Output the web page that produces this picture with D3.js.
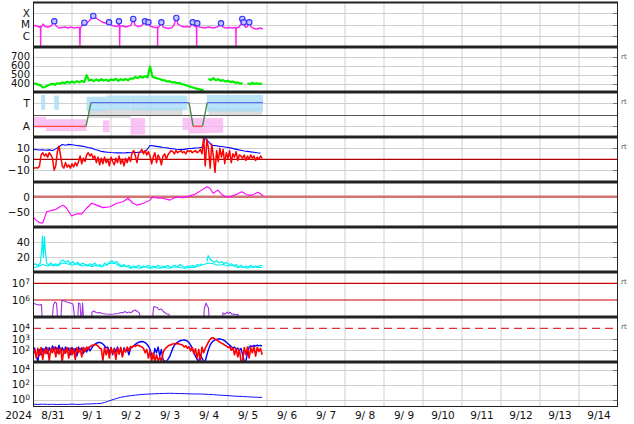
<!DOCTYPE html>
<html><head><meta charset="utf-8">
<script src="https://cdn.jsdelivr.net/npm/d3@7"></script>
<style>body{margin:0;background:#fff}svg{display:block}text{font-family:"DejaVu Sans",sans-serif}</style>
</head><body><svg id="c" width="634" height="424"></svg>
<script>
// ---------------- DATA (time = hours since 2024-08-31 00:00 UT) ----------------
const dayLabels=['8/31','9/ 1','9/ 2','9/ 3','9/ 4','9/ 5','9/ 6','9/ 7','9/ 8','9/ 9','9/10','9/11','9/12','9/13','9/14'];
const yearLabel='2024';

// X-ray flux (W/m2)
const xrayHours=[0,1.8,3.7,4.6,4.7,4.8,5.2,6.2,7.4,9.2,11.1,13.1,14.2,16,17.8,19.7,21.5,23.4,25.2,27.1,
28.6,28.9,29.1,29.5,31.6,32.6,33.8,35.1,37.1,38.8,40.6,42.5,44.3,46.8,48,49.8,51.7,52.6,52.9,53.2,
53.3,53.5,53.8,55.4,57.2,59.1,60.3,61.7,62.8,64.6,66.5,67.7,68.9,69.8,71,72,73.8,75.7,76.6,76.7,
76.8,77.5,79,80,81.8,83.7,85.5,86.8,88.2,89.2,91.1,92.9,94.8,96.6,98.3,99.1,100.3,100.6,100.7,100.8,
101.1,102.2,104,105.8,107.7,109.5,111.4,113.2,114.5,115.7,116.9,118.8,120.6,122.5,124.3,124.8,124.9,125,125.5,126.8,
128,128.8,129.7,130.5,131.7,133.1,134.2,136,137.8,139.7,141.5];
const xrayFlux=[7.4e-6,8.1e-6,6.0e-6,6.6e-6,1.2e-7,6.6e-6,6.0e-6,1.1e-5,6.6e-6,6.0e-6,7.4e-6,1.9e-5,7.4e-6,4.9e-6,5.4e-6,6.0e-6,4.9e-6,6.0e-6,4.9e-6,5.4e-6,
5.4e-6,1.2e-7,5.4e-6,6.0e-6,1.45e-5,1.1e-5,1.67e-5,2.5e-5,5.7e-5,3.8e-5,2.5e-5,1.67e-5,1.36e-5,1.57e-5,9.0e-6,7.4e-6,6.6e-6,9.0e-6,1.9e-5,9.0e-6,
1.2e-7,7.4e-6,7.4e-6,7.4e-6,6.0e-6,7.4e-6,9.0e-6,3.1e-5,9.0e-6,6.6e-6,7.4e-6,1.1e-5,1.9e-5,9.0e-6,1.57e-5,7.4e-6,6.0e-6,5.4e-6,5.4e-6,1.2e-7,
5.4e-6,6.0e-6,1.57e-5,6.0e-6,4.9e-6,4.4e-6,5.4e-6,9.0e-6,3.8e-5,1.1e-5,7.4e-6,6.0e-6,6.6e-6,6.0e-6,1.57e-5,7.4e-6,6.0e-6,6.0e-6,1.2e-7,6.0e-6,
1.28e-5,6.0e-6,5.4e-6,4.9e-6,6.0e-6,5.4e-6,4.9e-6,6.0e-6,7.4e-6,1.28e-5,6.0e-6,4.9e-6,5.4e-6,4.9e-6,5.4e-6,5.4e-6,1.2e-7,5.4e-6,4.9e-6,6.0e-6,
1.1e-5,3.1e-5,1.57e-5,6.0e-6,6.0e-6,1.57e-5,6.0e-6,4.4e-6,4.0e-6,4.9e-6,4.0e-6];
const flareHours=[13.1,31.6,37.1,46.8,52.9,61.7,68.9,71,79,88.2,98.3,101.1,115.7,128.8,129.7,133.1];
const flareFlux=[1.9e-5,1.45e-5,5.7e-5,1.57e-5,1.9e-5,3.1e-5,1.9e-5,1.57e-5,1.57e-5,3.8e-5,1.57e-5,1.28e-5,1.28e-5,3.1e-5,1.57e-5,1.57e-5];

// Solar wind speed (km/s), every 1.5 h
const speedStep=1.5;
const speedValues=[395,402,390,385,358,365,380,392,398,388,405,400,415,405,422,410,425,412,428,415,
430,418,495,435,445,428,448,432,450,435,445,430,448,438,455,432,450,440,452,438,
460,455,475,462,482,468,485,470,590,478,468,458,452,440,438,425,428,415,418,405,
410,395,392,380,372,362,355,345,340,332,328,null,455,440,462,438,450,432,440,425,
432,418,425,410,415,400,408,null,405,395,410,398,405,396,402];

// IMF sector (T = +1, A = -1)
const sectorHours=[0,32.6,35.7,96,98.6,104.3,107.2,141.5];
const sectorValues=[-1,-1,1,1,-1,-1,1,1];
const towardClouds=[[5,7.5,0.4,1.65],[13,16,0.4,1.6],[33,45,0.3,1.5],[45,60,0.4,1.6],[60,95,0.35,1.6],[107,141.5,0.25,1.65]];
const grayClouds=[[34,60,-0.3,0.45],[60,92,-0.1,0.55],[108,141,-0.1,0.55]];
const awayClouds=[[0,8,-1.15,-0.2],[8,33,-1.4,-0.4],[43,47,-1.5,-0.5],[60,69,-1.7,-0.3],[92,96,-1.3,-0.3],[96,107,-1.6,-0.3],[107,117,-1.55,-0.3]];

// IMF Bt (every 2 h) and Bz (every 1 h), nT
const btStep=2;
const btValues=[9.2,8.8,8.5,8.7,8.2,8.6,8.0,9.5,11.5,13.5,12.8,13.6,13.2,12.8,12.4,12.0,11.5,10.8,10.2,9.0,
8.2,7.2,6.8,6.5,6.2,6.0,5.9,6.0,5.8,6.1,6.0,6.2,6.3,6.5,6.6,8.5,12.6,12.2,11.8,11.3,
10.8,10.5,10.0,9.6,9.2,9.0,8.8,9.3,9.8,10.0,10.3,10.5,11.0,19.5,16.0,12.8,12.5,12.0,11.6,11.2,
10.8,10.2,9.5,8.8,8.2,7.6,7.2,6.8,6.5,6.0,5.6];
const bzStep=1;
const bzValues=[-7,-8,-7.5,-8,-6,4,6,3,5,2, 6,4,1,-10,-6,7,12,3,-6,-8, -3,-7,-5,-8,-4,-7,-3,-6,-2,3,
-4,1,-2,4,6,3,5,1,3,-3, 2,-5,1,-4,2,-3,0,-6,2,-2, -5,1,-3,3,-4,0,-6,1,-3,2,
-2,6,8,3,-3,5,7,9,5,8, 4,7,3,-4,2,6,-3,4,1,-5, 3,5,0,4,6,8,7,5,8,6,
7,8,6,7,5,8,7,8,6,7, 8,6,7,9,5,20,-6,18,10,-8, 14,3,-12,8,-2,10,2,9,-4,6,
1,8,-3,5,2,7,-1,4,3,1, 4,-1,3,0,4,1,3,-1,2,0, 3,1];

// Dst (nT)
const dstHours=[0,1.8,3.7,5.4,6.2,8.4,10.5,12.3,14.2,16.6,18.5,20.7,22.2,23.8,26.9,30,33,36.1,39.2,43.1,
47.4,51.5,55.4,58.5,61.5,63.8,67.7,72,73.8,76.9,80,84.3,88.4,92.3,95.4,99.7,103.8,106.9,108.9,110.8,
113.8,116.1,118.2,121.2,125.4,128.4,132.3,134.6,138.5,141.7];
const dstValues=[-64,-75,-82,-85,-82,-48,-45,-43,-40,-32,-27,-37,-50,-62,-55,-55,-37,-21,-27,-35,
-32,-21,-16,-5,-21,-27,-22,-11,0,-5,-5,-11,0,-3,1,8,21,32,27,11,
21,8,0,0,8,16,5,5,14,3];

// Proton density (/cc), two traces
const densHours=[0,1.5,3,4.5,5.4,5.8,6.4,7.1,7.5,8.4,9.5,11,12.5,14,15.5,17,18.5,20,21.5,23,
24.5,26,27.5,29,30.5,32,33.5,35,36.5,38,39.5,41,42.5,44,45.5,47,48.5,50,51.5,53,
54.5,56,57.5,59,60.5,62,63.5,65,66.5,68,69.5,71,72.5,74,75.5,77,78.5,80,81.5,83,
84.5,86,87.5,89,90.5,92,93.5,95,96.5,98,99.5,101,102.5,104,105.5,107,107.8,108.5,110,111.5,
113,114.5,116,117.5,119,120.5,122,123.5,125,126.5,128,129.5,131,132.5,134,135.5,137,138.5,140,141.5];
const densValues=[9,11,8,12,30,48,20,47,30,12,9,12,8,11,9,14,16,13,15,11,
14,10,13,9,12,10,8,11,9,12,8,10,7,12,9,13,15,12,14,10,
8,10,7,9,6,8,7,9,6,8,7,9,6,8,7,9,6,8,7,9,
6,8,9,7,10,8,6,8,7,9,7,10,9,11,null,14,22,19,15,13,
15,12,14,11,13,10,11,8,10,7,9,6,8,7,9,6,8,7,9,8];
const dens2Hours=[0,3,6,9,12,15,18,21,24,27,30,33,36,39,42,45,48,51,54,57,60,63,66,69,72,75,78,81,84,87,90,93,96,99,102,
108,111,114,117,120,123,126,129,132,135,138,141];
const dens2Values=[6,7,10,8,10,8,12,11,9,11,8,10,7,9,7,10,12,11,7,8,5,6,5,7,5,6,5,6,5,7,6,5,6,6,8,
12,11,9,10,8,9,6,7,5,7,6,6];

// Electron flux (purple), 3e4 = below panel
const elecHours=[0,1.8,3.7,5.2,5.8,11.4,12.6,13.5,14.5,15.4,16.9,17.8,19.1,20.9,22.8,24.6,26.2,27.4,28,28.9,
29.8,30.5,31.4,35.7,36.3,37.5,38.8,40,41.2,42.5,44.9,47.4,49.8,52.3,54.2,55.4,56.6,57.8,59.1,60.3,
61.5,62.8,64,65.5,66.2,73.2,74.2,75,76.3,77.5,78.8,80,81.2,82.5,83.7,84.3,104.6,105.5,106.5,107.4,
108,108.6,116.3,116.9,118.2,119.4,120.3,121.2,122.5,123.7,124.9,126.2,127.4];
const elecFlux=[6.6e5,5.5e5,5e5,5.3e5,3e4,3e4,5e5,7.5e5,6.5e5,3e4,3e4,9.5e5,9e5,7.6e5,6.6e5,5.7e5,3e4,3e4,6.6e5,6.2e5,
3e4,6.6e5,3e4,3e4,1.9e5,2.2e5,1.8e5,1.7e5,1.8e5,1.55e5,1.45e5,1.4e5,1.45e5,1.55e5,1.8e5,1.7e5,2.1e5,1.7e5,1.9e5,1.7e5,
2.2e5,2.5e5,2.1e5,1.7e5,3e4,3e4,3.8e5,4e5,3.6e5,2.6e5,2.9e5,2.2e5,1.7e5,1.45e5,1.4e5,3e4,3e4,3.3e5,6.6e5,4.2e5,
3.3e5,3e4,3e4,1.7e5,1.4e5,1.9e5,1.55e5,1.9e5,1.4e5,1.45e5,1.3e5,1.4e5,3e4];

// Particle flux, two channels, every 1 h
const fluxStep=1;
const fluxBlue=[80,160,30,10,120,40,150,60,200,50, 180,70,250,90,200,60,300,80,180,50,
200,70,160,40,180,60,150,30,200,80, 170,50,150,70,190,90,150,250,350,440,
510,530,480,380,260,170,200,60,180,40, 160,70,200,50,150,30,170,80,140,40,
150,200,260,350,450,540,600,630,600,500, 380,250,120,40,20,150,60,200,30,120,
15,10,10,15,25,60,150,280,420,560, 680,780,840,860,820,700,500,300,150,60,
30,15,10,40,20,10,10,40,120,300, 520,720,880,1000,1070,1080,1000,880,720,550,
400,300,220,160,200,120,160,100,150,40, 10,10,60,200,250,220,280,240,300,260, 280,250];
const fluxRed=[40,120,20,150,35,180,15,130,50,160, 12,140,60,200,25,170,45,150,10,130,
55,180,20,160,40,140,15,170,60,150, 25,190,80,200,120,220,260,300,330,320,
250,160,140,12,170,40,150,20,180,50, 130,15,160,45,190,25,140,70,200,90,
220,180,260,230,300,280,240,200,150,60, 120,20,90,10,60,10,40,10,25,10,
60,120,180,240,290,330,370,400,420,410, 380,330,300,200,260,150,220,90,180,50,
140,20,120,10,200,60,150,300,600,1000, 1400,1300,1100,900,700,550,450,380,300,250,
180,220,100,170,40,150,25,120,10,10, 180,40,200,20,170,60,220,30,190,80, 150,40];

// High-energy proton flux
const protonHours=[0,3,6,9,12,15,18,21,24,27,30,33,36,39,42,44,46,48,50,52,54,
57,60,63,66,69,72,75,78,81,84,87,90,93,96,99,102,105,108,111,114,117,120,123,126,129,132,135,138,141];
const protonValues=[0.23,0.22,0.24,0.22,0.23,0.21,0.23,0.22,0.24,0.22,0.23,0.25,0.26,0.28,0.31,0.40,0.55,0.80,1.1,1.5,2.0,
2.6,3.2,3.8,4.5,5.0,5.4,5.8,6.2,6.5,6.7,6.5,6.2,6.0,5.7,5.5,5.4,5.2,4.8,4.4,3.9,3.6,3.3,2.9,2.7,2.5,2.3,2.1,2.0,1.9];

// ---------------- LAYOUT ----------------
const L=33,R=618,TOP=2,PH=45,NP=9;
const svg=d3.select('#c');
const x=d3.scaleLinear().domain([0,360]).range([L,R]);
const pTop=i=>TOP+i*PH, pBot=i=>TOP+(i+1)*PH;
const FS=10.5;

const defs=svg.append('defs');
for(let i=0;i<NP;i++){
  defs.append('clipPath').attr('id','clip'+i).append('rect')
    .attr('x',L).attr('y',pTop(i)).attr('width',R-L).attr('height',PH);
}

const ys=[
  d3.scaleLog().domain([1e-7,1e-3]).range([pBot(0),pTop(0)]),
  d3.scaleLinear().domain([308,808]).range([pBot(1),pTop(1)]),
  d3.scaleLinear().domain([-1.9,1.9]).range([pBot(2),pTop(2)]),
  d3.scaleLinear().domain([-20.6,20.3]).range([pBot(3),pTop(3)]),
  d3.scaleLinear().domain([-97.1,47.1]).range([pBot(4),pTop(4)]),
  d3.scaleLinear().domain([0,60]).range([pBot(5),pTop(5)]),
  d3.scaleLog().domain([Math.pow(10,4.982),Math.pow(10,7.677)]).range([pBot(6),pTop(6)]),
  d3.scaleLog().domain([Math.pow(10,0.94),Math.pow(10,5.03)]).range([pBot(7),pTop(7)]),
  d3.scaleLog().domain([0.1,1e5]).range([pBot(8),pTop(8)])
];

const gridVals=[[1e-4,1e-5,1e-6],[400,500,600,700],[1,-1],[10,-10],[-50],[20,40],[],[1e3,1e2],[1e4,1e2,1]];

const gGrid=svg.append('g');
for(let d=1;d<15;d++){
  gGrid.append('line').attr('x1',x(d*24)).attr('x2',x(d*24)).attr('y1',TOP).attr('y2',pBot(8))
    .attr('stroke','#cfcfcf').attr('stroke-width',1);
}
gridVals.forEach((vals,i)=>{
  vals.forEach(v=>{
    const yy=Math.round(ys[i](v))+0.5;
    gGrid.append('line').attr('x1',L).attr('x2',R).attr('y1',yy).attr('y2',yy)
      .attr('stroke','#cfcfcf').attr('stroke-width',1);
    gGrid.append('line').attr('x1',R-5).attr('x2',R).attr('y1',yy).attr('y2',yy)
      .attr('stroke','#777').attr('stroke-width',1);
  });
});

function hline(i,v,color,w,dash){
  const yy=ys[i](v);
  const l=svg.append('line').attr('x1',L).attr('x2',R).attr('y1',yy).attr('y2',yy)
    .attr('stroke',color).attr('stroke-width',w);
  if(dash) l.attr('stroke-dasharray',dash);
}

function drawLine(i,hours,vals,color,w){
  const n=Math.min(hours.length,vals.length);
  const pts=[];
  for(let k=0;k<n;k++) pts.push([hours[k],vals[k]]);
  const line=d3.line().defined(d=>d[1]!=null).x(d=>x(d[0])).y(d=>ys[i](d[1]));
  svg.append('path').attr('clip-path',`url(#clip${i})`).attr('d',line(pts))
    .attr('fill','none').attr('stroke',color).attr('stroke-width',w).attr('stroke-linejoin','round');
}
function stepHours(vals,step){return vals.map((v,k)=>k*step);}

// Panel 0: X-ray
drawLine(0,xrayHours,xrayFlux,'#ff22f0',1.4);
svg.append('g').attr('clip-path','url(#clip0)').selectAll('circle')
  .data(flareHours.map((h,k)=>[h,flareFlux[k]])).join('circle')
  .attr('cx',d=>x(d[0])).attr('cy',d=>ys[0](d[1])).attr('r',2.7)
  .attr('fill','#c4c4ff').attr('stroke','#3030ff').attr('stroke-width',1.1);

// Panel 1: speed
drawLine(1,stepHours(speedValues,speedStep),speedValues,'#00ee00',2.2);

// Panel 2: sector
function clouds(list,fill,op){
  svg.append('g').attr('clip-path','url(#clip2)').selectAll('rect').data(list).join('rect')
    .attr('x',d=>x(d[0])).attr('width',d=>x(d[1])-x(d[0]))
    .attr('y',d=>ys[2](d[3])).attr('height',d=>ys[2](d[2])-ys[2](d[3]))
    .attr('fill',fill).attr('opacity',op);
}
clouds(grayClouds,'#d0d0d0',0.75);
clouds(towardClouds,'#a8dcf6',0.8);
clouds(awayClouds,'#f7b4f1',0.8);
svg.append('line').attr('x1',L).attr('x2',R).attr('y1',Math.round(ys[2](0))+0.5).attr('y2',Math.round(ys[2](0))+0.5)
  .attr('stroke','#555').attr('stroke-width',1);
for(let k=0;k<sectorHours.length-1;k++){
  const a=sectorValues[k],b=sectorValues[k+1];
  const col=(a===b)?(a>0?'#5a6ee8':'#ff4a4a'):'#4a8a4a';
  svg.append('line').attr('clip-path','url(#clip2)')
    .attr('x1',x(sectorHours[k])).attr('x2',x(sectorHours[k+1]))
    .attr('y1',ys[2](a)).attr('y2',ys[2](b)).attr('stroke',col).attr('stroke-width',1.4);
}

// Panel 3: Bt / Bz
hline(3,0,'#b00000',1.3);
drawLine(3,stepHours(btValues,btStep),btValues,'#0000ff',1.1);
drawLine(3,stepHours(bzValues,bzStep),bzValues,'#ff0000',1.5);

// Panel 4: Dst
hline(4,0,'#d27272',2.6);
drawLine(4,dstHours,dstValues,'#ff00ff',1.1);

// Panel 5: density
drawLine(5,dens2Hours,dens2Values,'#00f0f0',1.1);
drawLine(5,densHours,densValues,'#00f0f0',1.2);

// Panel 6: electrons
hline(6,1e7,'#cc0000',1.2);
hline(6,1e6,'#cc0000',1.2);
drawLine(6,elecHours,elecFlux,'#a030e0',1.1);

// Panel 7: particle flux
hline(7,1e4,'#e03030',1.4,'8,5');
drawLine(7,stepHours(fluxBlue,fluxStep),fluxBlue,'#0000ff',1.4);
drawLine(7,stepHours(fluxRed,fluxStep),fluxRed,'#ff0000',1.6);

// Panel 8: protons
drawLine(8,protonHours,protonValues,'#1010ff',1);

// separators & frame
for(let i=1;i<NP;i++){
  svg.append('line').attr('x1',L).attr('x2',R).attr('y1',pTop(i)).attr('y2',pTop(i))
    .attr('stroke','#222').attr('stroke-width',3);
}
svg.append('line').attr('x1',L).attr('x2',R).attr('y1',TOP+0.5).attr('y2',TOP+0.5).attr('stroke','#222').attr('stroke-width',2);
svg.append('line').attr('x1',L).attr('x2',R).attr('y1',pBot(8)-0.5).attr('y2',pBot(8)-0.5).attr('stroke','#222').attr('stroke-width',1.2);
svg.append('line').attr('x1',L+0.5).attr('x2',L+0.5).attr('y1',TOP).attr('y2',pBot(8)).attr('stroke','#222').attr('stroke-width',1);
svg.append('line').attr('x1',R-0.5).attr('x2',R-0.5).attr('y1',TOP).attr('y2',pBot(8)).attr('stroke','#222').attr('stroke-width',1);

// left axes
function leftAxis(i,vals,fmt,sup,fs){
  const g=svg.append('g').attr('transform',`translate(${L-2},0)`)
    .call(d3.axisLeft(ys[i]).tickValues(vals).tickFormat(fmt).tickSize(0).tickPadding(1));
  g.select('.domain').remove();
  g.selectAll('text').attr('font-size',fs||FS).attr('fill','#111').attr('font-family','DejaVu Sans');
  if(sup){
    g.selectAll('text').each(function(d){
      const t=d3.select(this); const e=Math.round(Math.log10(d));
      t.text(null);
      t.append('tspan').text('10');
      t.append('tspan').attr('dy','-0.45em').attr('font-size',7.5).text(String(e));
    });
  }
  return g;
}
leftAxis(0,[1e-4,1e-5,1e-6],d=>({'-4':'X','-5':'M','-6':'C'})[Math.round(Math.log10(d))]);
leftAxis(1,[400,500,600,700],d3.format('d'),false,10);
leftAxis(2,[1,-1],d=>d>0?'T':'A');
leftAxis(3,[10,0,-10],d=>d<0?'\u2212'+(-d):String(d));
leftAxis(4,[0,-50],d=>d<0?'\u2212'+(-d):String(d));
leftAxis(5,[20,40],d3.format('d'));
leftAxis(6,[1e6,1e7],null,true);
leftAxis(7,[1e2,1e3,1e4],null,true);
leftAxis(8,[1,1e2,1e4],null,true);

// bottom axis
const gx=svg.append('g').attr('transform',`translate(0,${pBot(8)})`)
  .call(d3.axisBottom(x).tickValues(dayLabels.map((s,k)=>k*24+12)).tickFormat((d,k)=>dayLabels[k]).tickSize(0).tickPadding(5));
gx.select('.domain').remove();
gx.selectAll('text').attr('font-size',FS).attr('fill','#111').attr('font-family','DejaVu Sans').style('white-space','pre');
svg.append('text').attr('x',18.5).attr('y',pBot(8)+5).attr('dy','0.71em').attr('text-anchor','middle')
  .attr('font-size',FS).attr('fill','#111').text(yearLabel);

// "rt" markers
const rtY={1:56.5,2:101.5,3:147,6:282,7:327};
Object.keys(rtY).forEach(k=>{
  svg.append('text').attr('x',621).attr('y',rtY[k]).attr('dy','0.35em').attr('font-size',7)
    .attr('fill','#555').text('rt');
});
</script></body></html>
